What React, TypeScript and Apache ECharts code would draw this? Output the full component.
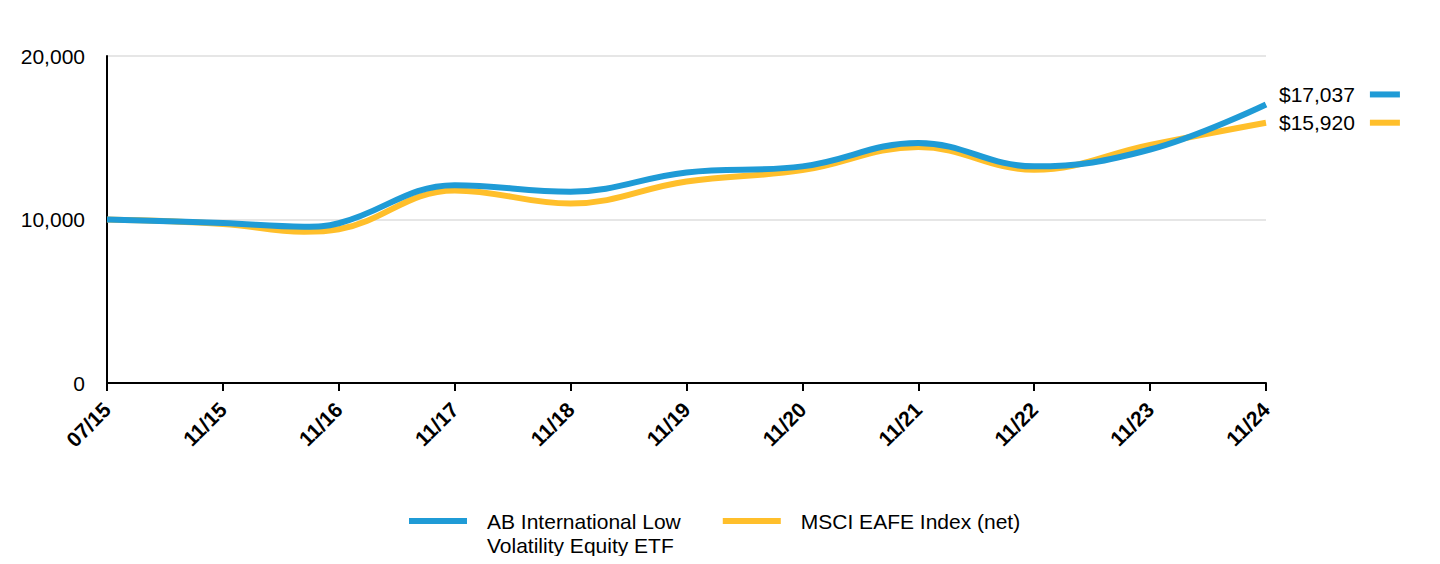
import React, { useEffect, useRef } from "react";
import * as echarts from "echarts";

const tickLabels = ["07/15", "11/15", "11/16", "11/17", "11/18", "11/19", "11/20", "11/21", "11/22", "11/23", "11/24"];
const pointPositions = [0, 1, 1.7, 2, 3, 4, 5, 6, 7, 8, 9, 10];
const fundValues = [10000, 9780, 9560, 9770, 12100, 11700, 12880, 13250, 14680, 13250, 14280, 17037];
const indexValues = [10000, 9730, 9250, 9400, 11780, 10980, 12320, 13020, 14440, 13050, 14560, 15920];
const fundName = "AB International Low\nVolatility Equity ETF";
const indexName = "MSCI EAFE Index (net)";
const fundColor = "#1f9bd6";
const indexColor = "#ffbf2b";

const fmtMoney = (v: number) => "$" + Math.round(v).toLocaleString("en-US");

export default function App() {
  const ref = useRef<HTMLDivElement>(null);
  useEffect(() => {
    if (!ref.current) return;
    const chart = echarts.init(ref.current, undefined, { renderer: "svg" });
    const endLabel = (color: string, offsetY: number) => ({
      show: true,
      distance: 13,
      offset: [0, offsetY],
      formatter: (p: any) => `{v|${fmtMoney(p.value[1])}}{g|}{s|}`,
      rich: {
        v: { fontSize: 21, color: "#000", fontFamily: "Arial, Liberation Sans, sans-serif" },
        g: { width: 15, height: 6 },
        s: { width: 30, height: 6, backgroundColor: color },
      },
    });
    chart.setOption({
      animation: false,
      textStyle: { fontFamily: "Arial, Liberation Sans, sans-serif" },
      grid: { left: 107, right: 174, top: 56, bottom: 181, containLabel: false },
      xAxis: {
        type: "value",
        min: 0,
        max: 10,
        interval: 1,
        axisLine: { show: true, lineStyle: { color: "#000", width: 2 } },
        axisTick: { show: true, length: 8, lineStyle: { color: "#000", width: 2 } },
        splitLine: { show: false },
        axisLabel: {
          rotate: 45,
          fontSize: 21,
          fontWeight: "bold",
          color: "#000",
          margin: 23,
          formatter: (v: number) => tickLabels[Math.round(v)] ?? "",
        },
      },
      yAxis: {
        type: "value",
        min: 0,
        max: 20000,
        interval: 10000,
        axisLine: { show: true, lineStyle: { color: "#000", width: 2 } },
        axisTick: { show: false },
        splitLine: { show: true, lineStyle: { color: "#dedede", width: 1.5 } },
        axisLabel: {
          fontSize: 21,
          color: "#000",
          margin: 22,
          formatter: (v: number) => v.toLocaleString("en-US"),
        },
      },
      legend: {
        left: 409,
        top: 485,
        padding: 0,
        itemWidth: 58,
        itemHeight: 6,
        itemGap: 42,
        icon: "rect",
        textStyle: { fontSize: 21, color: "#000", lineHeight: 24, padding: [0, 0, 0, 15] },
        formatter: (name: string) => (name === fundName ? " \n" + name : name),
        data: [fundName, indexName],
      },
      series: [
        {
          name: fundName,
          type: "line",
          z: 4,
          smooth: 0.4,
          symbol: "none",
          lineStyle: { width: 6, color: fundColor },
          itemStyle: { color: fundColor },
          data: pointPositions.map((x, i) => [x, fundValues[i]]),
          endLabel: endLabel(fundColor, -10),
        },
        {
          name: indexName,
          type: "line",
          z: 3,
          smooth: 0.4,
          symbol: "none",
          lineStyle: { width: 6, color: indexColor },
          itemStyle: { color: indexColor },
          data: pointPositions.map((x, i) => [x, indexValues[i]]),
          endLabel: endLabel(indexColor, 0),
        },
      ],
    });
    return () => chart.dispose();
  }, []);
  return <div ref={ref} style={{ width: 1440, height: 564, margin: -8 }} />;
}
